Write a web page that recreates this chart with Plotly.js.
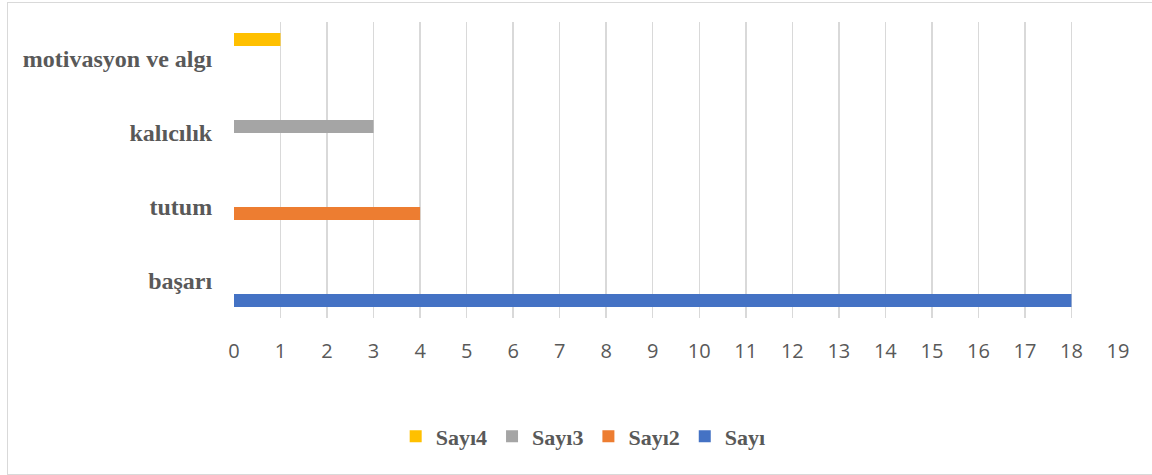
<!DOCTYPE html>
<html>
<head>
<meta charset="utf-8">
<script src="https://cdn.plot.ly/plotly-3.0.1.min.js"></script>
<style>
  html, body { margin: 0; padding: 0; background: #fff; }
  #wrap { position: relative; width: 1152px; height: 475px; overflow: hidden; }
  #chart { width: 1152px; height: 475px; }
  #frame { position: absolute; left: 7px; top: 2px; width: 1160px; height: 471px; border: 1px solid #d9d9d9; pointer-events: none; }
</style>
</head>
<body>
<div id="wrap">
  <div id="chart"></div>
  <div id="frame"></div>
</div>
<script>
const categories = ["başarı", "tutum", "kalıcılık", "motivasyon ve algı"];
const seriesNames = ["Sayı", "Sayı2", "Sayı3", "Sayı4"];
const sayi  = [18, null, null, null];
const sayi2 = [null, 4, null, null];
const sayi3 = [null, null, 3, null];
const sayi4 = [null, null, null, 1];
const colors = ["#4472C4", "#ED7D31", "#A5A5A5", "#FFC000"];

const serif = "'Liberation Serif', 'DejaVu Serif', serif";
const sans = "'Open Sans', 'Liberation Sans', sans-serif";

const values = [sayi, sayi2, sayi3, sayi4];
const traces = values.map((v, i) => ({
  type: "bar",
  orientation: "h",
  name: seriesNames[i],
  y: categories,
  x: v,
  marker: { color: colors[i] },
  hoverinfo: "x+name"
}));

const layout = {
  width: 1152,
  height: 475,
  margin: { l: 234, r: 34, t: 22, b: 157 },
  paper_bgcolor: "#ffffff",
  plot_bgcolor: "#ffffff",
  barmode: "group",
  bargap: 0.3,
  bargroupgap: 0,
  showlegend: true,
  legend: {
    orientation: "h",
    traceorder: "reversed",
    x: 0.395,
    xanchor: "center",
    y: -0.4,
    yanchor: "middle",
    font: { family: serif, size: 22, color: "#595959", weight: 700 },
    itemwidth: 30
  },
  xaxis: {
    range: [0, 19],
    dtick: 1,
    tick0: 0,
    showgrid: true,
    gridcolor: "#d9d9d9",
    gridwidth: 1.5,
    zeroline: false,
    showline: false,
    ticks: "outside",
    ticklen: 15,
    tickcolor: "rgba(0,0,0,0)",
    tickfont: { family: sans, size: 20, color: "#595959" },
    fixedrange: true
  },
  yaxis: {
    type: "category",
    categoryorder: "array",
    categoryarray: categories,
    showgrid: false,
    zeroline: false,
    showline: false,
    ticks: "outside",
    ticklen: 16,
    tickcolor: "rgba(0,0,0,0)",
    tickfont: { family: serif, size: 24, color: "#595959", weight: 700 },
    fixedrange: true
  }
};

Plotly.newPlot("chart", traces, layout, { displayModeBar: false, staticPlot: true });
</script>
</body>
</html>
